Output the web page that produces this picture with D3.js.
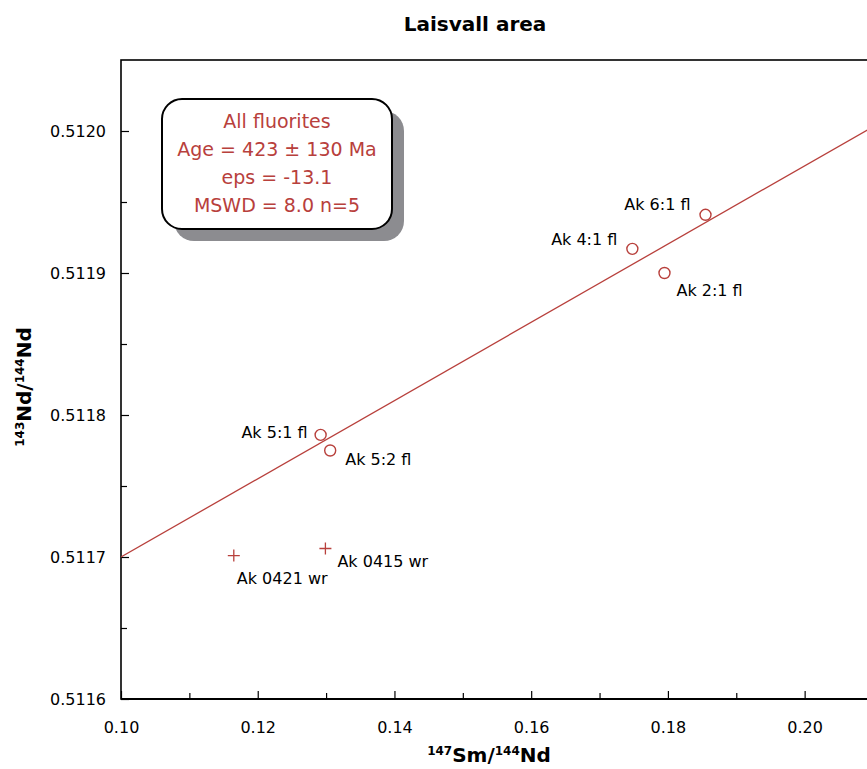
<!DOCTYPE html>
<html>
<head>
<meta charset="utf-8">
<script src="https://cdn.jsdelivr.net/npm/d3@7"></script>
<style>
  body { margin: 0; background: white; }
  text { font-family: "DejaVu Sans", sans-serif; }
</style>
</head>
<body>
<svg width="867" height="769" id="MainSVG"></svg>
<script>
// sample data
var sampleNames = ["Ak 6:1 fl", "Ak 4:1 fl", "Ak 2:1 fl", "Ak 5:1 fl", "Ak 5:2 fl", "Ak 0421 wr", "Ak 0415 wr"];
var sampleType  = ["fl", "fl", "fl", "fl", "fl", "wr", "wr"];
var smNd        = [0.1855, 0.1748, 0.1795, 0.1292, 0.1306, 0.1165, 0.1299];
var ndNd        = [0.511941, 0.511917, 0.511900, 0.511786, 0.511775, 0.511701, 0.511706];

// isochron end points
var isoX = [0.10, 0.21];
var isoY = [0.511700, 0.512003];

// ticks
var xMajor = [0.10, 0.12, 0.14, 0.16, 0.18, 0.20];
var xMinor = [0.11, 0.13, 0.15, 0.17, 0.19];
var yMajor = [0.5116, 0.5117, 0.5118, 0.5119, 0.5120];
var yMinor = [0.51165, 0.51175, 0.51185, 0.51195];

var boxLines = ["All fluorites", "Age = 423 \u00b1 130 Ma", "eps = -13.1", "MSWD = 8.0 n=5"];

// label placement (dx, dy, anchor) for each sample
var labelPos = [[-15, -5, "end"], [-15, -4, "end"], [12, 23, "start"], [-13, 3, "end"],
                [15, 14, "start"], [3, 28, "start"], [12, 19, "start"]];

var red = "#b8403c";
var svg = d3.select("svg");

var L = 121, T = 60, B = 699, R = 873;

var xs = d3.scaleLinear().domain([0.10, 0.21]).range([L, R]);
var ys = d3.scaleLinear().domain([0.5116, 0.51205]).range([B, T]);

// title
svg.append("text")
  .attr("x", 475).attr("y", 31)
  .attr("text-anchor", "middle")
  .attr("font-size", "20px").attr("font-weight", "bold")
  .text("Laisvall area");

// frame
svg.append("rect")
  .attr("x", L).attr("y", T).attr("width", R - L).attr("height", B - T)
  .attr("fill", "none").attr("stroke", "black").attr("stroke-width", 1.6);

// axes
svg.append("g").attr("transform", "translate(0," + B + ")")
  .call(d3.axisBottom(xs).tickValues(xMajor).tickSize(-8).tickPadding(23).tickFormat(d3.format(".2f")));
svg.append("g").attr("transform", "translate(0," + B + ")")
  .call(d3.axisBottom(xs).tickValues(xMinor).tickSize(-6).tickFormat(""));
svg.append("g").attr("transform", "translate(" + L + ",0)")
  .call(d3.axisLeft(ys).tickValues(yMajor).tickSize(-8).tickPadding(15).tickFormat(d3.format(".4f")));
svg.append("g").attr("transform", "translate(" + L + ",0)")
  .call(d3.axisLeft(ys).tickValues(yMinor).tickSize(-6).tickFormat(""));

svg.selectAll(".domain").remove();
svg.selectAll(".tick line").attr("stroke", "black").attr("stroke-width", 1.2);
svg.selectAll(".tick text").attr("font-size", "16px").attr("font-family", "DejaVu Sans").attr("fill", "black");

// thicker bottom axis line
svg.append("line")
  .attr("x1", L).attr("y1", B).attr("x2", R).attr("y2", B)
  .attr("stroke", "black").attr("stroke-width", 2.2);

// axis titles
var xt = svg.append("text")
  .attr("x", 489).attr("y", 762)
  .attr("text-anchor", "middle")
  .attr("font-size", "20px").attr("font-weight", "bold");
xt.append("tspan").attr("font-size", "12px").attr("dy", "-7").text("147");
xt.append("tspan").attr("dy", "7").text("Sm/");
xt.append("tspan").attr("font-size", "12px").attr("dy", "-7").text("144");
xt.append("tspan").attr("dy", "7").text("Nd");

var yt = svg.append("text")
  .attr("transform", "translate(31,387) rotate(-90)")
  .attr("text-anchor", "middle")
  .attr("font-size", "20px").attr("font-weight", "bold");
yt.append("tspan").attr("font-size", "12px").attr("dy", "-7").text("143");
yt.append("tspan").attr("dy", "7").text("Nd/");
yt.append("tspan").attr("font-size", "12px").attr("dy", "-7").text("144");
yt.append("tspan").attr("dy", "7").text("Nd");

// isochron
svg.append("clipPath").attr("id", "plotclip")
  .append("rect").attr("x", L).attr("y", T).attr("width", R - L).attr("height", B - T);

svg.append("line")
  .attr("clip-path", "url(#plotclip)")
  .attr("x1", xs(isoX[0])).attr("y1", ys(isoY[0]))
  .attr("x2", xs(isoX[1])).attr("y2", ys(isoY[1]))
  .attr("stroke", red).attr("stroke-width", 1.3);

// samples
var samples = sampleNames.map(function(n, i) {
  return {name: n, type: sampleType[i], x: smNd[i], y: ndNd[i], lp: labelPos[i]};
});

var pts = svg.selectAll(".sample")
  .data(samples)
  .enter().append("g")
  .attr("class", "sample")
  .attr("transform", function(d) { return "translate(" + xs(d.x) + "," + ys(d.y) + ")"; });

pts.filter(function(d) { return d.type == "fl"; })
  .append("circle")
  .attr("r", 5.5)
  .attr("fill", "white").attr("stroke", red).attr("stroke-width", 1.4);

pts.filter(function(d) { return d.type == "wr"; })
  .append("path")
  .attr("d", "M-6 0 L6 0 M0 -6 L0 6")
  .attr("stroke", red).attr("stroke-width", 1.3);

pts.append("text")
  .attr("x", function(d) { return d.lp[0]; })
  .attr("y", function(d) { return d.lp[1]; })
  .attr("text-anchor", function(d) { return d.lp[2]; })
  .attr("font-size", "16px")
  .text(function(d) { return d.name; });

// result box
var box = svg.append("g");
box.append("rect")
  .attr("x", 174).attr("y", 111).attr("width", 230).attr("height", 130).attr("rx", 20)
  .attr("fill", "#8c8c90");
box.append("rect")
  .attr("x", 162).attr("y", 99).attr("width", 230).attr("height", 130).attr("rx", 20)
  .attr("fill", "white").attr("stroke", "black").attr("stroke-width", 2);
box.selectAll(".boxline")
  .data(boxLines)
  .enter().append("text")
  .attr("class", "boxline")
  .attr("x", 277)
  .attr("y", function(d, i) { return 128 + i * 28; })
  .attr("text-anchor", "middle")
  .attr("font-size", "19px")
  .attr("fill", red)
  .text(function(d) { return d; });
</script>
</body>
</html>
